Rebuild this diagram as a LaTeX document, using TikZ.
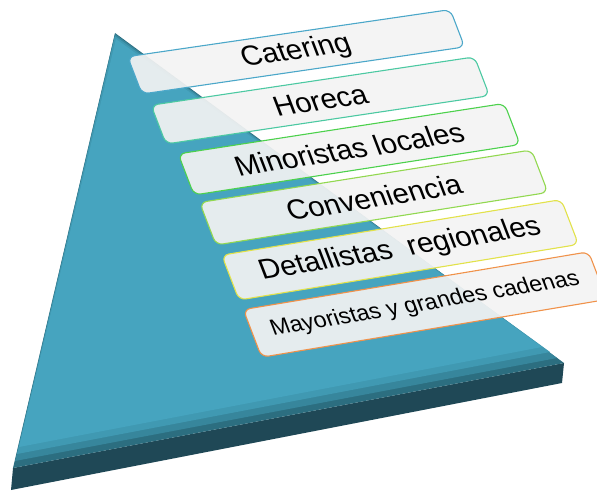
\documentclass[tikz,border=0pt]{standalone}
\usepackage{fontspec}
\setmainfont{Liberation Sans}
\usepackage{tikz}
\usetikzlibrary{shapes}
\definecolor{topface}{HTML}{46A4BF}
\definecolor{bevelLight}{HTML}{4099B2}
\definecolor{bevelMid}{HTML}{37869C}
\definecolor{bevelDark}{HTML}{2C6E80}
\definecolor{sideface}{HTML}{1F4856}
\definecolor{tierfill}{HTML}{F3F3F3}
\definecolor{lineA}{HTML}{4BA7C9}
\definecolor{lineB}{HTML}{4CC9A2}
\definecolor{lineC}{HTML}{4CD14C}
\definecolor{lineD}{HTML}{92D850}
\definecolor{lineE}{HTML}{E2E24A}
\definecolor{lineF}{HTML}{F0924A}
\tikzstyle{tier}=[rectangle, rounded corners=7pt, fill=tierfill, fill opacity=0.92, text opacity=1, line width=1.1pt, inner sep=0pt, text=black, transform shape, font=\fontsize{29}{32}\selectfont]

\begin{document}
\begin{tikzpicture}[x=1pt, y=1pt]
      \useasboundingbox (0,0) rectangle (597,491);
      %%%%%%%%%%%% Piramide
      \fill[sideface] (13,23) -- (564,128) -- (562,108) -- (11,1) -- cycle;
      \fill[bevelDark] (115,458) -- (13,23) -- (564,128) -- cycle;
      \fill[bevelMid] (115,457) -- (15,30) -- (557,133) -- cycle;
      \fill[bevelLight] (115,455) -- (17,37) -- (550,139) -- cycle;
      \fill[topface] (116,452) -- (19,44) -- (542,144) -- cycle;
      %%%%%%%%%%%% Niveles
      \begin{scope}[cm={0.98953,0.14436,-0.358,0.934,(142,397)}]
        \node(catering) [tier, draw=lineA, minimum width=326pt, minimum height=40pt] at (163,20){Catering};
      \end{scope}
      \begin{scope}[cm={0.98902,0.14781,-0.358,0.934,(166,347)}]
        \node(horeca) [tier, draw=lineB, minimum width=327pt, minimum height=41.5pt] at (163.5,20.75){Horeca};
      \end{scope}
      \begin{scope}[cm={0.98823,0.15299,-0.358,0.934,(194,296)}]
        \node(minoristas) [tier, draw=lineC, minimum width=330pt, minimum height=44pt] at (165,22){Minoristas locales};
      \end{scope}
      \begin{scope}[cm={0.98769,0.15643,-0.358,0.934,(216,246)}]
        \node(conveniencia) [tier, draw=lineD, minimum width=336pt, minimum height=45.5pt] at (168,22.75){Conveniencia};
      \end{scope}
      \begin{scope}[cm={0.98686,0.16160,-0.358,0.934,(239,191)}]
        \node(detallistas) [tier, draw=lineE, minimum width=344pt, minimum height=48pt] at (172,24){Detallistas\ \ regionales};
      \end{scope}
      \begin{scope}[cm={0.98629,0.16505,-0.358,0.934,(266,136)}]
        \node(mayoristas) [tier, draw=lineF, minimum width=350pt, minimum height=51pt, font=\fontsize{23}{26}\selectfont] at (170,24){Mayoristas y grandes cadenas};
      \end{scope}
    \end{tikzpicture}
\end{document}
